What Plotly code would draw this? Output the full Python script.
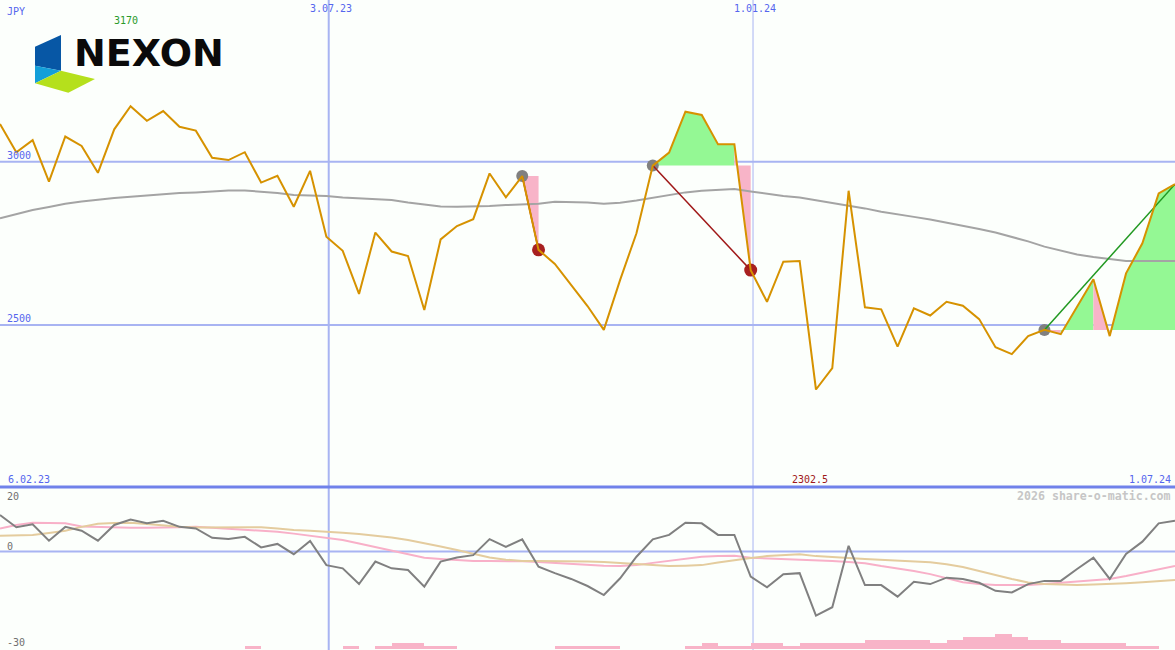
import plotly.graph_objects as go
import pandas as pd

W, H = 1175, 650

# ---------------- data ----------------
dates = list(pd.date_range("2023-02-12", periods=73, freq="7D"))

price = [3115, 3029, 3066, 2939, 3077, 3048, 2966, 3099, 3170, 3125,
         3155, 3107, 3095, 3012, 3005, 3029, 2936, 2957, 2862, 2972,
         2770, 2727, 2595, 2783, 2725, 2711, 2546, 2762, 2803, 2824,
         2964, 2891, 2956, 2730, 2687, 2623, 2558, 2485, 2638, 2781,
         2988, 3028, 3153, 3143, 3053, 3053, 2668, 2571, 2694, 2696,
         2302.5, 2368, 2911, 2554, 2548, 2434, 2551, 2529, 2571, 2559,
         2518, 2432, 2411, 2466, 2485, 2472, 2556, 2640, 2466, 2658,
         2750, 2903, 2931]

moving_avg = [2827, 2840, 2852, 2861, 2871, 2878, 2884, 2889, 2893, 2897,
              2901, 2904, 2906, 2909, 2912, 2912, 2909, 2904, 2898, 2897,
              2895, 2890, 2887, 2885, 2883, 2875, 2868, 2863, 2862, 2862,
              2864, 2867, 2868, 2871, 2877, 2877, 2875, 2871, 2874, 2881,
              2889, 2898, 2906, 2911, 2914, 2916, 2909, 2901, 2895, 2890,
              2882, 2874, 2867, 2857, 2847, 2840, 2831, 2823, 2814, 2805,
              2794, 2783, 2770, 2756, 2740, 2728, 2716, 2708, 2701, 2696,
              2696, 2696, 2696]

osc_main = [11.4, 7.6, 8.5, 3.4, 7.7, 6.5, 3.4, 8.3, 10.0, 8.8,
            9.6, 7.7, 7.2, 4.3, 3.9, 4.6, 1.3, 2.4, -0.8, 3.3,
            -4.2, -5.2, -10.1, -3.1, -5.2, -5.7, -10.9, -3.1, -1.8, -1.1,
            3.9, 1.5, 3.8, -4.7, -6.7, -8.5, -10.7, -13.5, -8.3, -1.6,
            3.8, 5.2, 9.0, 8.8, 5.2, 5.2, -7.8, -11.1, -7.0, -6.7,
            -19.9, -17.3, 1.8, -10.4, -10.4, -14.0, -9.4, -10.1, -8.1, -8.5,
            -9.7, -12.2, -12.7, -10.1, -9.1, -9.1, -5.4, -1.9, -8.5, -0.7,
            3.1, 8.8, 9.6]

osc_pink = [7.2, 8.3, 9.0, 8.9, 8.8, 7.8, 7.6, 7.4, 7.4, 7.4,
            7.4, 7.6, 7.7, 7.4, 7.0, 6.7, 6.5, 6.2, 5.6, 5.0,
            4.4, 3.6, 2.5, 1.4, 0.3, -0.7, -1.9, -2.3, -2.6, -2.9,
            -2.9, -2.9, -3.0, -3.2, -3.5, -3.9, -4.2, -4.4, -4.5, -4.2,
            -3.5, -2.8, -2.1, -1.6, -1.4, -1.3, -1.9, -2.1, -2.2, -2.3,
            -2.6, -2.9, -3.2, -3.6, -4.5, -5.2, -6.0, -7.0, -8.2, -9.5,
            -10.1, -10.4, -10.4, -10.4, -10.1, -9.7, -9.4, -9.1, -8.5, -7.6,
            -6.5, -5.4, -4.5]

osc_tan = [4.9, 5.0, 5.2, 5.8, 6.5, 7.7, 8.7, 8.9, 9.0, 8.6,
           8.1, 7.7, 7.5, 7.5, 7.7, 7.7, 7.6, 7.2, 6.7, 6.5,
           6.3, 5.9, 5.5, 5.0, 4.4, 3.6, 2.7, 1.6, 0.5, -0.6,
           -1.8, -2.5, -2.9, -2.9, -2.9, -2.9, -3.1, -3.2, -3.5, -3.7,
           -4.2, -4.5, -4.4, -4.2, -3.4, -2.6, -2.0, -1.4, -1.0, -0.8,
           -1.4, -1.8, -2.0, -2.3, -2.6, -2.9, -3.2, -3.3, -3.9, -4.8,
           -6.0, -7.3, -8.5, -9.6, -10.1, -10.2, -10.4, -10.2, -10.1, -9.8,
           -9.5, -9.1, -8.8]

volume = [0, 0, 0, 0, 0, 0, 0, 0, 0, 0,
          0, 0, 0, 0, 0, 1, 0, 0, 0, 0,
          0, 1, 0, 1, 2, 2, 1, 1, 0, 0,
          0, 0, 0, 0, 1, 1, 1, 1, 0, 0,
          0, 0, 1, 2, 1, 1, 2, 2, 1, 2,
          2, 2, 2, 3, 3, 3, 3, 2, 3, 4,
          4, 5, 4, 3, 3, 2, 2, 2, 2, 1,
          1, 0, 0]

# signals: start index, end index
signal_start = [32, 40, 64]
signal_end = [33, 46, 72]
signal_color = ["#a01818", "#a01818", "#229922"]
signal_end_dot = [True, True, False]

date_marks = ["2023-07-03", "2024-01-01"]
price_ticks = [3000, 2500]
osc_ticks = ["20", "0", "-30"]
range_labels = ["6.02.23", "1.07.24"]
currency = "JPY"
logo_text = "NEXON"
credit = "2026 share-o-matic.com"

# ---------------- helpers ----------------
def pxx(v):
    return v / W

def pxy(v):
    return 1 - v / H

MAIN_BOTTOM = 487
main_dom = [1 - MAIN_BOTTOM / H, 1]
osc_dom = [0, 1 - MAIN_BOTTOM / H]

BLUE_TXT = "#5566ee"
GRID = "#a8b4f2"
MONO = "DejaVu Sans Mono"

def fmt_date(d):
    d = pd.Timestamp(d)
    return f"{d.day}.{d.month:02d}.{d.year % 100:02d}"

fig = go.Figure()

# ---------------- signal fills ----------------
GREEN_FILL = "#94f894"
PINK_FILL = "#f8b4c8"
for s, e in zip(signal_start, signal_end):
    level = price[s]
    groups = []
    for i in range(s, e):
        col = GREEN_FILL if price[i + 1] > level else PINK_FILL
        if groups and groups[-1][0] == col:
            groups[-1][1].append(i + 1)
        else:
            groups.append([col, [i, i + 1]])
    for col, idx in groups:
        xs = [dates[idx[0]]] + [dates[k] for k in idx] + [dates[idx[-1]], dates[idx[0]]]
        ys = [level] + [price[k] for k in idx] + [level, level]
        fig.add_trace(go.Scatter(x=xs, y=ys, mode="lines", fill="toself",
                                 fillcolor=col, line=dict(width=0, color=col),
                                 hoverinfo="skip", showlegend=False,
                                 xaxis="x", yaxis="y"))

# moving average
fig.add_trace(go.Scatter(x=dates, y=moving_avg, mode="lines",
                         line=dict(color="#a4a4a4", width=2),
                         showlegend=False, xaxis="x", yaxis="y"))

# dots
for s, e, has_end in zip(signal_start, signal_end, signal_end_dot):
    fig.add_trace(go.Scatter(x=[dates[s]], y=[price[s]], mode="markers",
                             marker=dict(color="#808080", size=12, line=dict(width=0)),
                             showlegend=False, xaxis="x", yaxis="y"))
    if has_end:
        fig.add_trace(go.Scatter(x=[dates[e]], y=[price[e]], mode="markers",
                                 marker=dict(color="#a82020", size=13, line=dict(width=0)),
                                 showlegend=False, xaxis="x", yaxis="y"))

# signal lines
for s, e, c in zip(signal_start, signal_end, signal_color):
    fig.add_trace(go.Scatter(x=[dates[s], dates[e]], y=[price[s], price[e]], mode="lines",
                             line=dict(color=c, width=1.5),
                             showlegend=False, xaxis="x", yaxis="y"))

# price line
fig.add_trace(go.Scatter(x=dates, y=price, mode="lines",
                         line=dict(color="#d69200", width=2),
                         showlegend=False, xaxis="x", yaxis="y"))

# ---------------- oscillator panel ----------------
half_week = pd.Timedelta(days=3.5)
vx = [d + half_week for d, v in zip(dates, volume) if v > 0]
vy = [v for v in volume if v > 0]
fig.add_trace(go.Bar(x=vx, y=vy, width=7 * 86400000, marker=dict(color="#f8b4c8", line=dict(width=0)),
                     showlegend=False, xaxis="x", yaxis="y3"))

fig.add_trace(go.Scatter(x=dates, y=osc_pink, mode="lines",
                         line=dict(color="#f8b0c8", width=2),
                         showlegend=False, xaxis="x", yaxis="y2"))
fig.add_trace(go.Scatter(x=dates, y=osc_tan, mode="lines",
                         line=dict(color="#e4cc9e", width=2),
                         showlegend=False, xaxis="x", yaxis="y2"))
fig.add_trace(go.Scatter(x=dates, y=osc_main, mode="lines",
                         line=dict(color="#808080", width=2),
                         showlegend=False, xaxis="x", yaxis="y2"))

# ---------------- shapes ----------------
shapes = []
# vertical date lines
for d, wdt in zip(date_marks, [2, 1]):
    shapes.append(dict(type="line", xref="x", yref="paper", x0=d, x1=d, y0=0, y1=1,
                       line=dict(color=GRID, width=wdt), layer="below"))
# price grid
for p in price_ticks:
    shapes.append(dict(type="line", xref="paper", yref="y", x0=0, x1=1, y0=p, y1=p,
                       line=dict(color=GRID, width=2), layer="below"))
# osc zero line
shapes.append(dict(type="line", xref="paper", yref="y2", x0=0, x1=1, y0=0, y1=0,
                   line=dict(color=GRID, width=2), layer="below"))
# separator
shapes.append(dict(type="line", xref="paper", yref="paper", x0=0, x1=1,
                   y0=pxy(MAIN_BOTTOM), y1=pxy(MAIN_BOTTOM),
                   line=dict(color="#7082ea", width=3), layer="below"))

# logo (decoration)
def path(pts):
    return "M " + " L ".join(f"{pxx(a):.5f},{pxy(b):.5f}" for a, b in pts) + " Z"

logo_parts = [
    ([(35, 46.7), (61, 35), (61, 70.7), (35, 65.7)], "#0757a5"),
    ([(35, 65.7), (61, 70.7), (35, 83.3)], "#139fd9"),
    ([(35, 83.3), (61, 70.7), (95, 79), (68.3, 92.7)], "#b5e01c"),
]
for pts, col in logo_parts:
    shapes.append(dict(type="path", xref="paper", yref="paper", path=path(pts),
                       fillcolor=col, line=dict(width=0), layer="above"))

# ---------------- annotations ----------------
ann = []
def label(text, x, y, color, xanchor="left", xref="paper", yref="paper", size=10,
          family=MONO, yshift=0, xshift=0):
    ann.append(dict(text=text, x=x, y=y, xref=xref, yref=yref, xanchor=xanchor,
                    yanchor="middle", showarrow=False, yshift=yshift, xshift=xshift,
                    font=dict(family=family, size=size, color=color)))

label(currency, pxx(5), pxy(12), BLUE_TXT)
imax = price.index(max(price))
imin = price.index(min(price))
label(f"{max(price):g}", dates[imax], pxy(20), "#2a9a2a", xanchor="center", xref="x", xshift=-5)
label(f"{min(price):g}", dates[imin], pxy(479), "#a01818", xanchor="center", xref="x", xshift=-6)
for d in date_marks:
    label(fmt_date(d), d, pxy(9), BLUE_TXT, xanchor="center", xref="x", xshift=2)
for p in price_ticks:
    label(f"{p}", pxx(5), p, BLUE_TXT, yref="y", yshift=6)
label(range_labels[0], pxx(6), pxy(479), BLUE_TXT)
label(range_labels[1], pxx(1173), pxy(479), BLUE_TXT, xanchor="right")
label(f"<b>{credit}</b>", pxx(1173), pxy(496), "#c6c6c6", xanchor="right", size=11.6)
for t, ypx in zip(osc_ticks, [496, 546, 642]):
    label(t, pxx(5), pxy(ypx), "#707070")
ann.append(dict(text=f"<b>{logo_text}</b>", x=pxx(72), y=pxy(53), xref="paper", yref="paper",
                xanchor="left", yanchor="middle", showarrow=False,
                font=dict(family="DejaVu Sans", size=38, color="#0a0a0a")))

# ---------------- layout ----------------
bg = "#fcfffc"
fig.update_layout(
    width=W, height=H,
    margin=dict(l=0, r=0, t=0, b=0),
    paper_bgcolor=bg, plot_bgcolor=bg,
    showlegend=False,
    bargap=0,
    xaxis=dict(type="date", range=[dates[0], dates[-1]], visible=False, showgrid=False,
               zeroline=False, anchor="y2", domain=[0, 1]),
    yaxis=dict(domain=main_dom, range=[2004, 3495], visible=False, showgrid=False, zeroline=False),
    yaxis2=dict(domain=osc_dom, range=[-30.6, 20.1], visible=False, showgrid=False, zeroline=False),
    yaxis3=dict(overlaying="y2", range=[-0.25, 54], visible=False, showgrid=False, zeroline=False),
    shapes=shapes,
    annotations=ann,
)

fig.write_html("out.html", config={"displayModeBar": False},
               post_script="document.body.style.margin='0';document.body.style.background='" + bg + "';")
